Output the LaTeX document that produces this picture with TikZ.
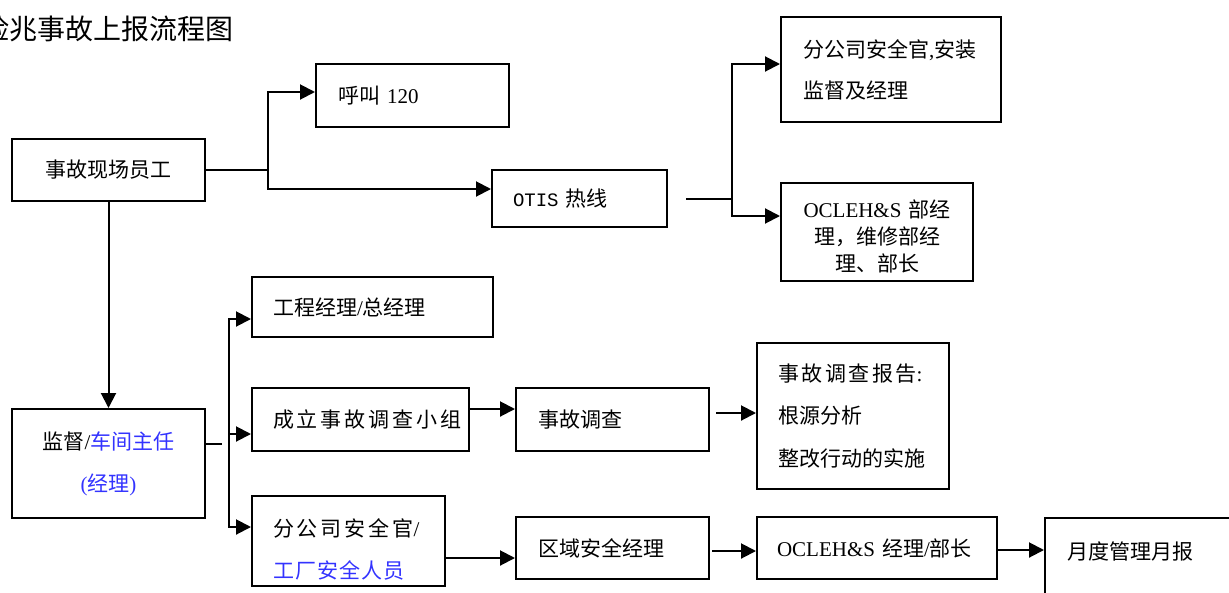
\documentclass[tikz,border=0pt]{standalone}
\usepackage{fontspec}
\setmainfont{Noto Sans CJK SC}
\newfontfamily\lat{Liberation Serif}
\newfontfamily\mono{Liberation Mono}
\usetikzlibrary{arrows.meta}
\definecolor{tblue}{RGB}{51,51,255}
\begin{document}
\begin{tikzpicture}[x=1pt,y=-1pt,
  box/.style={draw, line width=2pt, inner ysep=0pt, font=\fontsize{21}{42}\selectfont},
  lbox/.style={box, align=left},
  conn/.style={line width=2pt},
  arr/.style={conn, -{Triangle[length=15pt,width=15pt]}}]
\clip (0,0) rectangle (1229,592);
\fill[white] (0,0) rectangle (1229,592);

\node[anchor=west, inner sep=0pt, font=\fontsize{28}{28}\selectfont] (title) at (-19,28.5) {险兆事故上报流程图};

\node[box, minimum width=193pt, minimum height=62pt] (e1) at (108.5,170) {事故现场员工};
\node[lbox, inner xsep=22pt, text width=149pt, minimum height=63pt] (call) at (412.5,95.5) {呼叫 {\lat 120}};
\node[lbox, inner xsep=21pt, text width=133pt, minimum height=57pt] (otis) at (579.5,198.5) {{\mono\fontsize{19}{19}\selectfont OTIS} 热线};
\node[lbox, inner xsep=22pt, text width=176pt, minimum height=105pt, font=\fontsize{21}{41}\selectfont] (br1) at (891,69.5) {分公司安全官{\lat ,}安装\\监督及经理};
\node[box, align=center, text width=192pt, inner xsep=0pt, minimum height=98pt, font=\fontsize{21}{27}\selectfont] (och) at (877,232) {\rule{0pt}{26.5pt}{\lat OCLEH\&S} 部经\\理，维修部经\\理、部长};

\node[box, align=center, text width=193pt, inner xsep=0pt, minimum height=109pt] (sup) at (108.5,463.5) {监督{\lat /}\textcolor{tblue}{车间主任}\\\textcolor{tblue}{{\lat (}经理{\lat )}}};

\node[lbox, inner xsep=21pt, text width=199pt, minimum height=60pt] (eng) at (372.5,307) {工程经理{\lat /}总经理};
\node[lbox, inner xsep=21pt, text width=175pt, minimum height=63pt] (team) at (360.5,419.5) {\addfontfeature{LetterSpace=14}成立事故调查小组};
\node[lbox, inner xsep=21pt, text width=151pt, minimum height=90pt] (saf) at (348.5,541) {\rule{0pt}{34.5pt}{\addfontfeature{LetterSpace=14}分公司安全官{\lat /}}\\\textcolor{tblue}{\addfontfeature{LetterSpace=5}工厂安全人员}};

\node[lbox, inner xsep=22pt, text width=149pt, minimum height=63pt] (inv) at (612.5,419.5) {事故调查};
\node[lbox, inner xsep=21pt, text width=150pt, minimum height=146pt, font=\fontsize{21}{42.5}\selectfont] (rep) at (853,416) {{\addfontfeature{LetterSpace=12}事故调查报告{\lat :}}\\根源分析\\整改行动的实施};
\node[lbox, inner xsep=22pt, text width=149pt, minimum height=62pt] (area) at (612.5,548) {区域安全经理};
\node[lbox, inner xsep=20pt, text width=200pt, minimum height=62pt] (och2) at (877,548) {{\lat OCLEH\&S} 经理{\lat /}部长};
\node[box, anchor=north west, inner xsep=22pt, text height=41pt, text depth=82pt] (mon) at (1044,517) {\makebox[172pt][l]{月度管理月报}};

% connectors
\coordinate (j1) at (268,170);
\draw[conn] (e1.east) -- (j1);
\draw[arr] (j1) |- ([yshift=3.5pt]call.west);
\draw[arr] (j1) |- ([yshift=9.5pt]otis.west);

\coordinate (j2) at (732,198.5);
\draw[conn] ([xshift=18pt]otis.east) -- (j2);
\draw[arr] (j2) |- ([yshift=5.5pt]br1.west);
\draw[arr] (j2) |- ([yshift=16pt]och.west);

\draw[arr] (e1.south) -- (sup.north);

\draw[conn] ([yshift=19.5pt]sup.east) -- ++(16,0);
\coordinate (j3) at (229,434);
\draw[arr] (j3) |- ([yshift=-12pt]eng.west);
\draw[arr] (j3) -- ([yshift=-14.5pt]team.west);
\draw[arr] (j3) |- ([yshift=14pt]saf.west);

\draw[arr] ([yshift=10.5pt]team.east) -- ([yshift=10.5pt]inv.west);
\draw[arr] ([xshift=6pt,yshift=6.5pt]inv.east) -- ([yshift=3pt]rep.west);
\draw[arr] ([yshift=-17pt]saf.east) -- ([yshift=-10pt]area.west);
\draw[arr] ([xshift=2pt,yshift=-3pt]area.east) -- ([yshift=-3pt]och2.west);
\draw[arr] ([yshift=-2pt]och2.east) -- ([yshift=-2pt]och2.east -| mon.west);
\end{tikzpicture}
\end{document}
